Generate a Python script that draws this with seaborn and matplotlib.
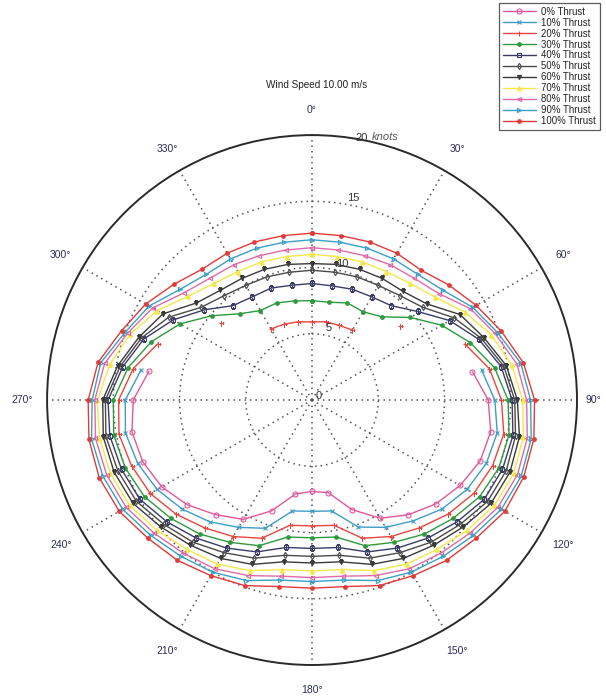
import numpy as np
import matplotlib
matplotlib.use("Agg")
import matplotlib.pyplot as plt
from matplotlib.lines import Line2D
import seaborn as sns

# Heading angles (deg, clockwise from bow) and boat speed (knots) per thrust level
angles = np.arange(0, 360, 10)
nan = np.nan

thrust_000 = [nan, nan, nan, nan, nan, nan, nan, nan, 12.3, 13.3, 13.7, 13.5, 12.9, 12.2, 11.3, 10.3, 8.8, 7.1,
              6.9, 7.2, 8.9, 10.4, 11.3, 12.3, 13.1, 13.6, 13.8, 13.5, 12.5, nan, nan, nan, nan, nan, nan, nan]
thrust_010 = [nan, nan, nan, nan, nan, nan, nan, nan, 13.0, 13.8, 14.2, 14.0, 13.5, 12.8, 11.9, 11.1, 10.2, 8.5,
              8.4, 8.5, 10.3, 11.1, 12.0, 12.8, 13.5, 14.0, 14.3, 14.1, 13.1, nan, nan, nan, nan, nan, nan, nan]
thrust_020 = [5.9, 6.0, 6.0, 6.1, nan, 8.7, nan, 12.3, 13.6, 14.3, 14.7, 14.5, 14.1, 13.4, 12.6, 11.9, 11.1, 9.6,
              9.5, 9.6, 11.1, 11.9, 12.6, 13.4, 14.1, 14.5, 14.8, 14.6, 13.7, 12.4, nan, 9.0, nan, 6.2, 6.1, 6.0]
thrust_030 = [7.5, 7.5, 7.8, 7.7, 8.2, 9.7, 11.3, 12.7, 14.0, 14.8, 15.1, 15.0, 14.6, 13.9, 13.2, 12.4, 11.7, 10.5,
              10.4, 10.5, 11.7, 12.4, 13.2, 13.9, 14.6, 15.0, 15.2, 15.0, 14.1, 12.9, 11.5, 9.9, 8.5, 7.8, 7.8, 7.6]
thrust_040 = [8.8, 8.75, 8.9, 9.0, 9.3, 10.4, 12.0, 13.4, 14.5, 15.1, 15.4, 15.3, 15.0, 14.3, 13.6, 12.9, 12.2, 11.3,
              11.2, 11.3, 12.2, 12.9, 13.6, 14.3, 15.0, 15.3, 15.5, 15.4, 14.5, 13.5, 12.1, 10.6, 9.3, 9.0, 9.0, 8.8]
thrust_050 = [9.8, 9.8, 9.9, 10.0, 10.3, 10.9, 12.4, 13.6, 14.7, 15.3, 15.6, 15.6, 15.3, 14.6, 14.0, 13.3, 12.7, 11.9,
              11.8, 11.9, 12.7, 13.3, 14.0, 14.6, 15.3, 15.6, 15.8, 15.6, 14.7, 13.7, 12.5, 10.9, 10.3, 10.0, 9.9, 9.8]
thrust_060 = [10.3, 10.4, 10.5, 10.6, 10.7, 11.3, 12.9, 13.8, 14.9, 15.5, 15.9, 15.9, 15.6, 14.9, 14.3, 13.8, 13.2, 12.4,
              12.3, 12.4, 13.2, 13.8, 14.3, 14.9, 15.6, 15.9, 16.0, 15.8, 14.9, 13.9, 13.0, 11.4, 10.8, 10.6, 10.5, 10.4]
thrust_070 = [11.0, 11.0, 11.1, 11.2, 11.5, 12.1, 13.3, 14.4, 15.3, 15.9, 16.2, 16.2, 15.9, 15.3, 14.7, 14.3, 13.7, 13.0,
              12.9, 13.0, 13.7, 14.3, 14.7, 15.3, 15.9, 16.2, 16.3, 16.2, 15.5, 14.6, 13.5, 12.2, 11.5, 11.2, 11.1, 11.0]
thrust_080 = [11.5, 11.5, 11.6, 11.8, 12.0, 12.5, 13.8, 14.7, 15.7, 16.2, 16.5, 16.5, 16.2, 15.6, 15.1, 14.7, 14.1, 13.5,
              13.4, 13.5, 14.1, 14.7, 15.1, 15.6, 16.2, 16.5, 16.6, 16.4, 15.9, 14.8, 13.9, 12.6, 12.0, 11.8, 11.6, 11.5]
thrust_090 = [12.1, 12.1, 12.2, 12.3, 12.4, 12.9, 14.0, 14.9, 16.0, 16.5, 16.8, 16.8, 16.5, 15.9, 15.4, 15.0, 14.5, 13.8,
              13.7, 13.8, 14.5, 15.0, 15.4, 15.9, 16.5, 16.8, 16.9, 16.6, 16.2, 15.0, 14.2, 13.0, 12.4, 12.3, 12.2, 12.1]
thrust_100 = [12.6, 12.6, 12.7, 12.8, 12.8, 13.5, 14.3, 15.2, 16.2, 16.8, 17.0, 17.0, 16.8, 16.2, 15.8, 15.3, 14.9, 14.3,
              14.2, 14.3, 14.9, 15.3, 15.8, 16.2, 16.8, 17.1, 17.1, 16.9, 16.4, 15.3, 14.5, 13.6, 12.9, 12.8, 12.7, 12.6]

labels = ["0% Thrust", "10% Thrust", "20% Thrust", "30% Thrust", "40% Thrust", "50% Thrust",
          "60% Thrust", "70% Thrust", "80% Thrust", "90% Thrust", "100% Thrust"]
series = [thrust_000, thrust_010, thrust_020, thrust_030, thrust_040, thrust_050,
          thrust_060, thrust_070, thrust_080, thrust_090, thrust_100]

# line colour, marker, marker size, open marker?
styles = [
    ("#e0589c", "o", 3.6, True),
    ("#3f9cc6", "x", 2.8, False),
    ("#e8463f", "+", 3.6, False),
    ("#2e9a3c", "o", 2.6, False),
    ("#3a3c66", "s", 3.0, True),
    ("#4a4a4a", "d", 3.2, True),
    ("#3a3a3a", "v", 3.0, False),
    ("#f3e84a", "^", 3.0, False),
    ("#e06aa8", "<", 3.0, True),
    ("#3aa0c8", ">", 3.0, True),
    ("#e23a36", "o", 2.6, False),
]

sns.set_style("white")
plt.rcParams["font.family"] = ["Liberation Sans", "DejaVu Sans"]


def segments(vals):
    """Contiguous runs of valid points, walking round the circle."""
    v = np.asarray(vals, dtype=float)
    ok = ~np.isnan(v)
    n = len(v)
    if ok.all():
        return [list(range(n)) + [0]]
    start = int(np.where(~ok)[0][0])
    runs, cur = [], []
    for k in range(1, n + 1):
        i = (start + k) % n
        if ok[i]:
            cur.append(i)
        elif cur:
            runs.append(cur)
            cur = []
    if cur:
        runs.append(cur)
    return runs


fig = plt.figure(figsize=(6.06, 7.0), dpi=100)
fig.patch.set_facecolor("white")
ax = fig.add_axes([0.0776, 0.05, 0.8746, 0.757], projection="polar")
ax.set_theta_zero_location("N")
ax.set_theta_direction(-1)
ax.set_ylim(0, 20)
ax.set_xticks(np.deg2rad(np.arange(0, 360, 30)))
ax.set_xticklabels([])
ax.set_yticks([5, 10, 15])
ax.set_yticklabels([])
ax.grid(True, color="#555555", linestyle=(0, (1, 2.6)), linewidth=1.1)
ax.spines["polar"].set_color("#2a2a2a")
ax.spines["polar"].set_linewidth(1.4)
ax.set_facecolor("white")

handles = []
for vals, lab, (col, mk, ms, hollow) in zip(series, labels, styles):
    v = np.asarray(vals, dtype=float)
    for idx in segments(v):
        # a full loop repeats its first point, unwrapped to +360 deg
        th = np.unwrap(np.deg2rad(angles[idx].astype(float)))
        r = v[idx]
        sns.lineplot(x=th, y=r, ax=ax, sort=False, estimator=None, color=col,
                     linewidth=1.0, marker=mk, markersize=ms,
                     markerfacecolor="none" if hollow else col,
                     markeredgecolor=col, markeredgewidth=0.8, legend=False)
    handles.append(Line2D([], [], color=col, linewidth=1.0, marker=mk, markersize=ms,
                          markerfacecolor="none" if hollow else col,
                          markeredgecolor=col, markeredgewidth=0.8))

ax.set_xlabel("")
ax.set_ylabel("")

# angle labels around the outer ring
lab_col = "#2b2d55"
for a in range(0, 360, 30):
    rr = 21.25 if a == 90 else 21.9
    ax.text(np.deg2rad(a), rr, f"{a}\u00b0", ha="center", va="center",
            fontsize=7.5, color=lab_col, clip_on=False)

# radial labels
for rv, th in [(5, 13), (10, 12.5), (15, 11.5)]:
    ax.text(np.deg2rad(th), rv + 0.55, str(rv), ha="center", va="center",
            fontsize=8, color="#333333")
ax.text(np.deg2rad(10.6), 20.15, "20", ha="center", va="center", fontsize=8, color="#333333",
        clip_on=False)
ax.annotate("knots", xy=(np.deg2rad(10.6), 20.15), xytext=(8, 0.5), textcoords="offset points",
            ha="left", va="center", fontsize=8, style="italic", color="#555555",
            annotation_clip=False)
ax.text(np.deg2rad(60), 0.6, "0", ha="center", va="center", fontsize=8, color="#333333")

fig.text(0.522, 1 - 85 / 700, "Wind Speed 10.00 m/s", ha="center", va="center",
         fontsize=7.2, color="#222222")

leg = fig.legend(handles, labels, loc="upper right", bbox_to_anchor=(0.99, 0.996),
                 fontsize=6.9, frameon=True, fancybox=False, edgecolor="#333333",
                 labelspacing=0.1, handlelength=3.4, handletextpad=0.6, borderpad=0.4,
                 borderaxespad=0.0)
leg.get_frame().set_linewidth(0.9)
for t in leg.get_texts():
    t.set_color("#222222")

fig.savefig("out.png", dpi=100, facecolor="white")
